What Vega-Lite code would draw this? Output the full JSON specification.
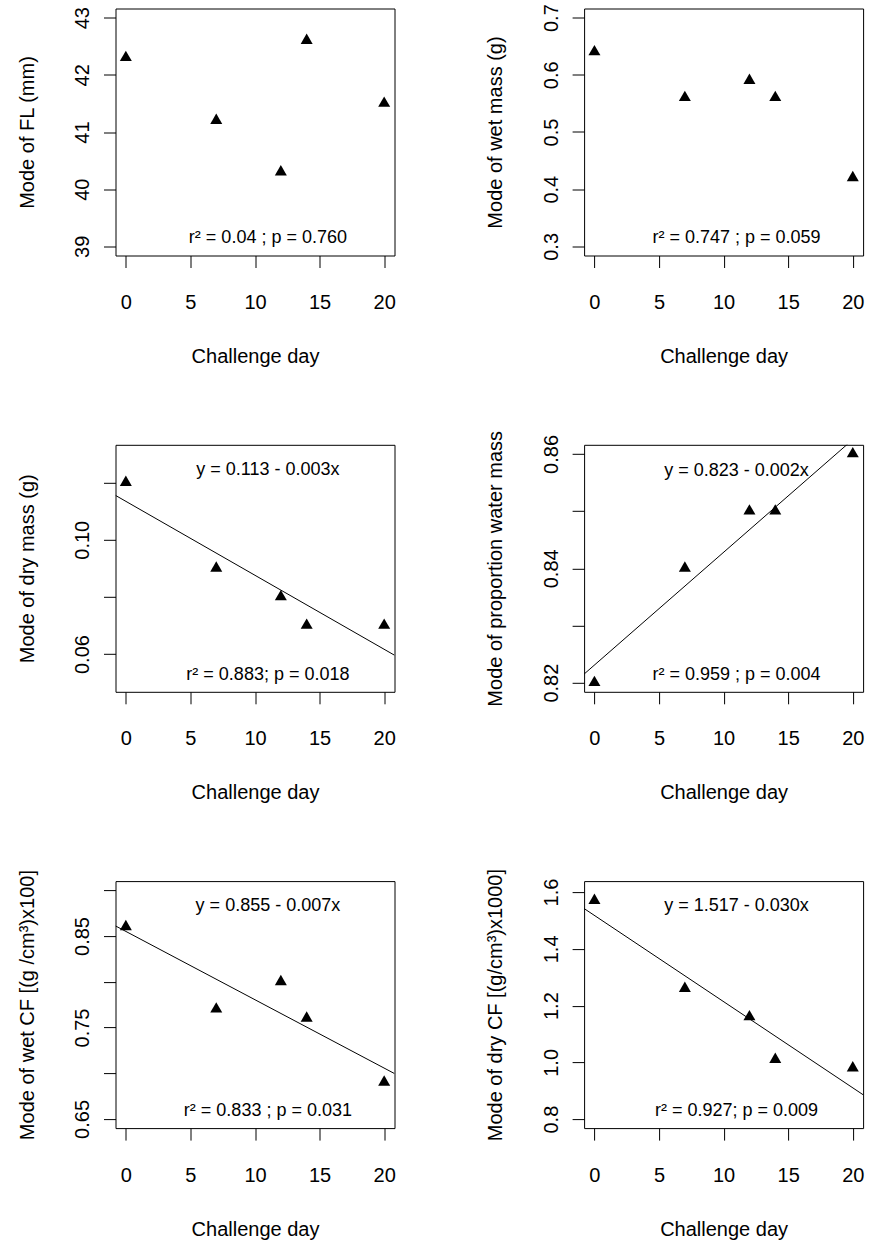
{
  "$schema": "https://vega.github.io/schema/vega-lite/v6.json",
  "background": "white",
  "padding": {"left": 15.5, "top": 2.5, "right": 2, "bottom": 5},
  "columns": 2,
  "bounds": "flush",
  "spacing": {"row": 189.3, "column": 189.6},
  "datasets": {
    "pts": [
      {"panel": "FL", "day": 0, "value": 42.3},
      {"panel": "FL", "day": 7, "value": 41.2},
      {"panel": "FL", "day": 12, "value": 40.3},
      {"panel": "FL", "day": 14, "value": 42.6},
      {"panel": "FL", "day": 20, "value": 41.5},
      {"panel": "WM", "day": 0, "value": 0.64},
      {"panel": "WM", "day": 7, "value": 0.56},
      {"panel": "WM", "day": 12, "value": 0.59},
      {"panel": "WM", "day": 14, "value": 0.56},
      {"panel": "WM", "day": 20, "value": 0.42},
      {"panel": "DM", "day": 0, "value": 0.12},
      {"panel": "DM", "day": 7, "value": 0.09},
      {"panel": "DM", "day": 12, "value": 0.08},
      {"panel": "DM", "day": 14, "value": 0.07},
      {"panel": "DM", "day": 20, "value": 0.07},
      {"panel": "PW", "day": 0, "value": 0.82},
      {"panel": "PW", "day": 7, "value": 0.84},
      {"panel": "PW", "day": 12, "value": 0.85},
      {"panel": "PW", "day": 14, "value": 0.85},
      {"panel": "PW", "day": 20, "value": 0.86},
      {"panel": "WCF", "day": 0, "value": 0.86},
      {"panel": "WCF", "day": 7, "value": 0.77},
      {"panel": "WCF", "day": 12, "value": 0.80},
      {"panel": "WCF", "day": 14, "value": 0.76},
      {"panel": "WCF", "day": 20, "value": 0.69},
      {"panel": "DCF", "day": 0, "value": 1.57},
      {"panel": "DCF", "day": 7, "value": 1.26},
      {"panel": "DCF", "day": 12, "value": 1.16},
      {"panel": "DCF", "day": 14, "value": 1.01},
      {"panel": "DCF", "day": 20, "value": 0.98}
    ],
    "fit": [
      {"panel": "DM", "day": -0.8, "value": 0.1155},
      {"panel": "DM", "day": 20.8, "value": 0.0596},
      {"panel": "PW", "day": -0.8, "value": 0.8215},
      {"panel": "PW", "day": 20.8, "value": 0.8641},
      {"panel": "WCF", "day": -0.8, "value": 0.861},
      {"panel": "WCF", "day": 20.8, "value": 0.6996},
      {"panel": "DCF", "day": -0.8, "value": 1.542},
      {"panel": "DCF", "day": 20.8, "value": 0.886}
    ]
  },
  "config": {
    "view": {"stroke": "black", "strokeWidth": 1},
    "axis": {
      "domain": false, "grid": false, "ticks": true, "tickColor": "black", "tickSize": 12, "tickWidth": 1,
      "labelFont": "Liberation Sans", "labelFontSize": 20, "labelColor": "black",
      "titleFont": "Liberation Sans", "titleFontSize": 20, "titleFontWeight": "normal", "titleColor": "black",
      "labelFlush": false, "labelOverlap": false
    },
    "axisX": {"labelPadding": 25, "titlePadding": 34, "labelAngle": 0},
    "axisY": {"labelAngle": 270, "labelAlign": "center", "labelBaseline": "bottom", "labelPadding": 11, "titlePadding": 35.5},
    "text": {"font": "Liberation Sans", "fontSize": 18, "color": "black"}
  },
  "concat": [
    {
      "width": 279, "height": 247,
      "layer": [
        {
          "data": {"name": "pts"},
          "transform": [{"filter": "datum.panel == 'FL'"}],
          "mark": {"type": "point", "shape": "triangle-up", "filled": true, "color": "black", "opacity": 1, "size": 144, "yOffset": -1.8},
          "encoding": {
            "x": {"field": "day", "type": "quantitative", "scale": {"domain": [-0.8, 20.8], "nice": false, "zero": false}, "axis": {"title": "Challenge day", "values": [0, 5, 10, 15, 20]}},
            "y": {"field": "value", "type": "quantitative", "scale": {"domain": [38.84, 43.16], "nice": false, "zero": false}, "axis": {"title": "Mode of FL (mm)", "values": [39, 40, 41, 42, 43], "format": "d"}}
          }
        },
        {
          "data": {"values": [{}]},
          "mark": {"type": "text", "text": "r² = 0.04 ; p = 0.760", "align": "center", "baseline": "middle"},
          "encoding": {"x": {"datum": 11, "type": "quantitative"}, "y": {"datum": 39.15, "type": "quantitative"}}
        }
      ]
    },
    {
      "width": 279, "height": 247,
      "layer": [
        {
          "data": {"name": "pts"},
          "transform": [{"filter": "datum.panel == 'WM'"}],
          "mark": {"type": "point", "shape": "triangle-up", "filled": true, "color": "black", "opacity": 1, "size": 144, "yOffset": -1.8},
          "encoding": {
            "x": {"field": "day", "type": "quantitative", "scale": {"domain": [-0.8, 20.8], "nice": false, "zero": false}, "axis": {"title": "Challenge day", "values": [0, 5, 10, 15, 20]}},
            "y": {"field": "value", "type": "quantitative", "scale": {"domain": [0.284, 0.716], "nice": false, "zero": false}, "axis": {"title": "Mode of wet mass (g)", "values": [0.3, 0.4, 0.5, 0.6, 0.7], "format": ".1f"}}
          }
        },
        {
          "data": {"values": [{}]},
          "mark": {"type": "text", "text": "r² = 0.747 ; p = 0.059", "align": "center", "baseline": "middle"},
          "encoding": {"x": {"datum": 11, "type": "quantitative"}, "y": {"datum": 0.315, "type": "quantitative"}}
        }
      ]
    },
    {
      "width": 279, "height": 247,
      "layer": [
        {
          "data": {"name": "pts"},
          "transform": [{"filter": "datum.panel == 'DM'"}],
          "mark": {"type": "point", "shape": "triangle-up", "filled": true, "color": "black", "opacity": 1, "size": 144, "yOffset": -1.8},
          "encoding": {
            "x": {"field": "day", "type": "quantitative", "scale": {"domain": [-0.8, 20.8], "nice": false, "zero": false}, "axis": {"title": "Challenge day", "values": [0, 5, 10, 15, 20]}},
            "y": {"field": "value", "type": "quantitative", "scale": {"domain": [0.0468, 0.1332], "nice": false, "zero": false}, "axis": {"title": "Mode of dry mass (g)", "values": [0.06, 0.08, 0.10, 0.12], "labelExpr": "abs(datum.value - 0.06) < 1e-6 || abs(datum.value - 0.10) < 1e-6 ? format(datum.value, '.2f') : ''"}}
          }
        },
        {
          "data": {"name": "fit"},
          "transform": [{"filter": "datum.panel == 'DM'"}],
          "mark": {"type": "line", "color": "black", "strokeWidth": 1, "clip": true},
          "encoding": {"x": {"field": "day", "type": "quantitative"}, "y": {"field": "value", "type": "quantitative"}}
        },
        {
          "data": {"values": [{}]},
          "mark": {"type": "text", "text": "y = 0.113 - 0.003x", "align": "center", "baseline": "middle"},
          "encoding": {"x": {"datum": 11, "type": "quantitative"}, "y": {"datum": 0.1243, "type": "quantitative"}}
        },
        {
          "data": {"values": [{}]},
          "mark": {"type": "text", "text": "r² = 0.883; p = 0.018", "align": "center", "baseline": "middle"},
          "encoding": {"x": {"datum": 11, "type": "quantitative"}, "y": {"datum": 0.0528, "type": "quantitative"}}
        }
      ]
    },
    {
      "width": 279, "height": 247,
      "layer": [
        {
          "data": {"name": "pts"},
          "transform": [{"filter": "datum.panel == 'PW'"}],
          "mark": {"type": "point", "shape": "triangle-up", "filled": true, "color": "black", "opacity": 1, "size": 144, "yOffset": -1.8},
          "encoding": {
            "x": {"field": "day", "type": "quantitative", "scale": {"domain": [-0.8, 20.8], "nice": false, "zero": false}, "axis": {"title": "Challenge day", "values": [0, 5, 10, 15, 20]}},
            "y": {"field": "value", "type": "quantitative", "scale": {"domain": [0.8184, 0.8616], "nice": false, "zero": false}, "axis": {"title": "Mode of proportion water mass", "values": [0.82, 0.83, 0.84, 0.85, 0.86], "labelExpr": "abs(datum.value - 0.83) < 1e-6 || abs(datum.value - 0.85) < 1e-6 ? '' : format(datum.value, '.2f')"}}
          }
        },
        {
          "data": {"name": "fit"},
          "transform": [{"filter": "datum.panel == 'PW'"}],
          "mark": {"type": "line", "color": "black", "strokeWidth": 1, "clip": true},
          "encoding": {"x": {"field": "day", "type": "quantitative"}, "y": {"field": "value", "type": "quantitative"}}
        },
        {
          "data": {"values": [{}]},
          "mark": {"type": "text", "text": "y = 0.823 - 0.002x", "align": "center", "baseline": "middle"},
          "encoding": {"x": {"datum": 11, "type": "quantitative"}, "y": {"datum": 0.8571, "type": "quantitative"}}
        },
        {
          "data": {"values": [{}]},
          "mark": {"type": "text", "text": "r² = 0.959 ; p = 0.004", "align": "center", "baseline": "middle"},
          "encoding": {"x": {"datum": 11, "type": "quantitative"}, "y": {"datum": 0.8213, "type": "quantitative"}}
        }
      ]
    },
    {
      "width": 279, "height": 247,
      "layer": [
        {
          "data": {"name": "pts"},
          "transform": [{"filter": "datum.panel == 'WCF'"}],
          "mark": {"type": "point", "shape": "triangle-up", "filled": true, "color": "black", "opacity": 1, "size": 144, "yOffset": -1.8},
          "encoding": {
            "x": {"field": "day", "type": "quantitative", "scale": {"domain": [-0.8, 20.8], "nice": false, "zero": false}, "axis": {"title": "Challenge day", "values": [0, 5, 10, 15, 20]}},
            "y": {"field": "value", "type": "quantitative", "scale": {"domain": [0.64, 0.91], "nice": false, "zero": false}, "axis": {"title": "Mode of wet CF [(g /cm³)x100]", "values": [0.65, 0.70, 0.75, 0.80, 0.85, 0.90], "labelExpr": "abs(datum.value - 0.65) < 1e-6 || abs(datum.value - 0.75) < 1e-6 || abs(datum.value - 0.85) < 1e-6 ? format(datum.value, '.2f') : ''"}}
          }
        },
        {
          "data": {"name": "fit"},
          "transform": [{"filter": "datum.panel == 'WCF'"}],
          "mark": {"type": "line", "color": "black", "strokeWidth": 1, "clip": true},
          "encoding": {"x": {"field": "day", "type": "quantitative"}, "y": {"field": "value", "type": "quantitative"}}
        },
        {
          "data": {"values": [{}]},
          "mark": {"type": "text", "text": "y = 0.855 - 0.007x", "align": "center", "baseline": "middle"},
          "encoding": {"x": {"datum": 11, "type": "quantitative"}, "y": {"datum": 0.8826, "type": "quantitative"}}
        },
        {
          "data": {"values": [{}]},
          "mark": {"type": "text", "text": "r² = 0.833 ; p = 0.031", "align": "center", "baseline": "middle"},
          "encoding": {"x": {"datum": 11, "type": "quantitative"}, "y": {"datum": 0.6584, "type": "quantitative"}}
        }
      ]
    },
    {
      "width": 279, "height": 247,
      "layer": [
        {
          "data": {"name": "pts"},
          "transform": [{"filter": "datum.panel == 'DCF'"}],
          "mark": {"type": "point", "shape": "triangle-up", "filled": true, "color": "black", "opacity": 1, "size": 144, "yOffset": -1.8},
          "encoding": {
            "x": {"field": "day", "type": "quantitative", "scale": {"domain": [-0.8, 20.8], "nice": false, "zero": false}, "axis": {"title": "Challenge day", "values": [0, 5, 10, 15, 20]}},
            "y": {"field": "value", "type": "quantitative", "scale": {"domain": [0.7684, 1.6387], "nice": false, "zero": false}, "axis": {"title": "Mode of dry CF [(g/cm³)x1000]", "values": [0.8, 1.0, 1.2, 1.4, 1.6], "format": ".1f"}}
          }
        },
        {
          "data": {"name": "fit"},
          "transform": [{"filter": "datum.panel == 'DCF'"}],
          "mark": {"type": "line", "color": "black", "strokeWidth": 1, "clip": true},
          "encoding": {"x": {"field": "day", "type": "quantitative"}, "y": {"field": "value", "type": "quantitative"}}
        },
        {
          "data": {"values": [{}]},
          "mark": {"type": "text", "text": "y = 1.517 - 0.030x", "align": "center", "baseline": "middle"},
          "encoding": {"x": {"datum": 11, "type": "quantitative"}, "y": {"datum": 1.55, "type": "quantitative"}}
        },
        {
          "data": {"values": [{}]},
          "mark": {"type": "text", "text": "r² = 0.927; p = 0.009", "align": "center", "baseline": "middle"},
          "encoding": {"x": {"datum": 11, "type": "quantitative"}, "y": {"datum": 0.828, "type": "quantitative"}}
        }
      ]
    }
  ]
}
